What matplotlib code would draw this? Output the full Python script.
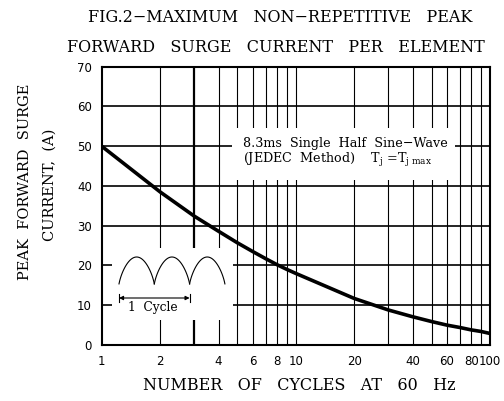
import numpy as np
import matplotlib
matplotlib.use("Agg")
import matplotlib.pyplot as plt
from matplotlib.patches import Rectangle
from matplotlib.ticker import FixedLocator, NullFormatter, FixedFormatter

# ---- data ----
cycles = [1, 2, 3, 4, 5, 6, 7, 8, 9, 10, 20, 30, 40, 50, 60, 70, 80, 90, 100]
surge_current = [50, 38.5, 32.4, 28.6, 25.7, 23.5, 21.7, 20.2, 19.0, 18.0,
                 11.7, 8.8, 7.1, 5.9, 5.0, 4.4, 3.8, 3.4, 2.9]
x_tick_values = [1, 2, 4, 6, 8, 10, 20, 40, 60, 80, 100]
x_tick_labels = ["1", "2", "4", "6", "8", "10", "20", "40", "60", "80", "100"]
y_tick_values = [0, 10, 20, 30, 40, 50, 60, 70]
x_grid_values = [2, 3, 4, 5, 6, 7, 8, 9, 10, 20, 30, 40, 50, 60, 70, 80, 90]

W, H = 504, 401
fig = plt.figure(figsize=(W / 100, H / 100), dpi=100)
L, R, T, B = 101.7, 490.0, 66.7, 345.0
ax = fig.add_axes([L / W, 1 - B / H, (R - L) / W, (B - T) / H])
ax.set_xscale("log")
ax.set_xlim(1, 100)
ax.set_ylim(0, 70)

# grid
for y in y_tick_values[1:-1]:
    ax.axhline(y, color="black", lw=1.2, zorder=0.5)
for x in x_grid_values:
    ax.axvline(x, color="black", lw=1.6 if x == 3 else 0.8, zorder=0.5)

# white gap in the grid behind the text box
ax.add_patch(Rectangle((4.7, 41.4), 66 - 4.7, 54.5 - 41.4, facecolor="white",
                       edgecolor="none", zorder=1))

ax.plot(cycles, surge_current, color="black", lw=2.6, zorder=3,
        solid_capstyle="butt")

ax.xaxis.set_major_locator(FixedLocator(x_tick_values))
ax.xaxis.set_major_formatter(FixedFormatter(x_tick_labels))
ax.xaxis.set_minor_locator(FixedLocator([]))
ax.xaxis.set_minor_formatter(NullFormatter())
ax.set_yticks(y_tick_values)
ax.tick_params(length=0, labelsize=8.5, pad=7)
for lab in ax.get_xticklabels() + ax.get_yticklabels():
    lab.set_fontfamily("DejaVu Sans")
for s in ax.spines.values():
    s.set_linewidth(1.5)

# text box
tfont = dict(family="DejaVu Serif", fontsize=9.2, color="black")
ax.text(243 / W, 1 - 143 / H, "8.3ms  Single  Half  Sine\u2212Wave",
        transform=fig.transFigure, ha="left", va="center", zorder=4, **tfont)
ax.text(243 / W, 1 - 160 / H,
        "(JEDEC  Method)    T$_\\mathregular{j}$ =T$_\\mathregular{j\\ max}$",
        transform=fig.transFigure, ha="left", va="center", zorder=4, **tfont)

# inset illustration (white panel hiding the grid)
ix0, ix1, iy0, iy1 = 112, 233, 248, 320
iax = fig.add_axes([ix0 / W, 1 - iy1 / H, (ix1 - ix0) / W, (iy1 - iy0) / H])
iax.set_xlim(ix0, ix1)
iax.set_ylim(iy1, iy0)
iax.set_xticks([])
iax.set_yticks([])
for s in iax.spines.values():
    s.set_visible(False)
iax.set_facecolor("white")
hump_w = 35.3
for k in range(3):
    t = np.linspace(0.06, np.pi - 0.06, 80)
    xs = 119 + k * hump_w + (t - 0.06) / (np.pi - 0.12) * hump_w
    ys = 290 - 33 * np.sin(t) ** 0.6
    iax.plot(xs, ys, color="black", lw=0.8)
iax.annotate("", xy=(119, 298), xytext=(189.6, 298),
             arrowprops=dict(arrowstyle="<|-|>", color="black", lw=0.8,
                             mutation_scale=6, shrinkA=0, shrinkB=0))
iax.plot([119, 119], [294, 302], color="black", lw=0.8)
iax.plot([189.6, 189.6], [294, 302], color="black", lw=0.8)
iax.text(153, 307.5, "1  Cycle", ha="center", va="center",
         family="DejaVu Serif", fontsize=8.8)

# titles / labels
serif = dict(family="DejaVu Serif", fontsize=11.5, color="black")
fig.text(280 / W, 1 - 17 / H, "FIG.2\u2212MAXIMUM   NON\u2212REPETITIVE   PEAK",
         ha="center", va="center", **serif)
fig.text(276 / W, 1 - 47 / H, "FORWARD   SURGE   CURRENT   PER   ELEMENT",
         ha="center", va="center", **serif)
fig.text(299 / W, 1 - 385 / H, "NUMBER   OF   CYCLES   AT   60   Hz",
         ha="center", va="center", **serif)
yl = dict(family="DejaVu Serif", fontsize=10.5, color="black")
fig.text(25 / W, 1 - 182 / H, "PEAK  FORWARD  SURGE", rotation=90,
         ha="center", va="center", **yl)
fig.text(50 / W, 1 - 185 / H, "CURRENT,  (A)", rotation=90,
         ha="center", va="center", **yl)

fig.savefig("out.png", dpi=100, facecolor="white")
